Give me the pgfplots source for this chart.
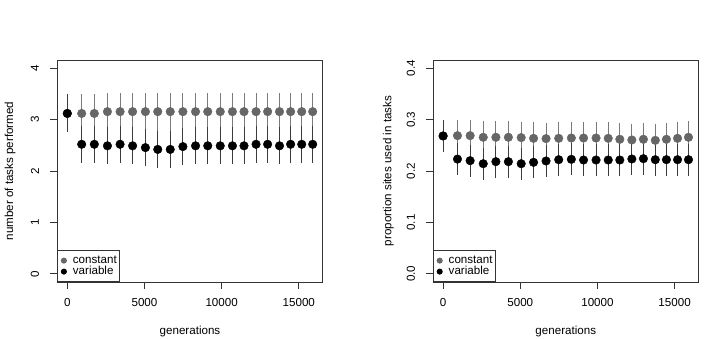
\documentclass[border=0pt]{standalone}
\usepackage{fontspec}
\setmainfont{Liberation Sans}
\usepackage{pgfplots}
\usepackage{pgfplotstable}
\pgfplotsset{compat=1.18}
\definecolor{cgray}{HTML}{666666}
\definecolor{cbar}{HTML}{7A7A7A}
\definecolor{vbar}{HTML}{3C3C3C}
\definecolor{axcol}{HTML}{333333}

\pgfplotstableread{
x     c      ce    v      ve
0     3.12   0.37  3.12   0.37
930   3.12   0.37  2.52   0.36
1750  3.12   0.37  2.52   0.36
2600  3.155  0.37  2.49   0.36
3420  3.155  0.37  2.52   0.36
4230  3.155  0.37  2.49   0.36
5060  3.155  0.37  2.455  0.36
5860  3.155  0.37  2.42   0.36
6670  3.155  0.37  2.42   0.36
7490  3.155  0.37  2.475  0.36
8310  3.155  0.37  2.49   0.36
9100  3.155  0.37  2.49   0.36
9910  3.155  0.37  2.49   0.36
10700 3.155  0.37  2.49   0.36
11450 3.155  0.37  2.49   0.36
12230 3.155  0.37  2.52   0.36
12980 3.155  0.37  2.52   0.36
13750 3.155  0.37  2.49   0.36
14470 3.155  0.37  2.52   0.36
15190 3.155  0.37  2.52   0.36
15900 3.155  0.37  2.52   0.36
}\dataL

\pgfplotstableread{
x     c       ce     v       ve
0     0.2682  0.032  0.2682  0.032
930   0.2688  0.031  0.2232  0.031
1750  0.2688  0.031  0.2201  0.031
2600  0.2656  0.031  0.2142  0.031
3420  0.2656  0.031  0.2182  0.031
4230  0.2656  0.031  0.2182  0.031
5060  0.2650  0.031  0.2142  0.031
5860  0.2636  0.031  0.2169  0.031
6670  0.2630  0.031  0.2195  0.031
7490  0.2636  0.031  0.2220  0.031
8310  0.2642  0.031  0.2227  0.031
9100  0.2642  0.031  0.2214  0.031
9910  0.2642  0.031  0.2214  0.031
10700 0.2636  0.031  0.2214  0.031
11450 0.2617  0.031  0.2214  0.031
12230 0.2604  0.031  0.2234  0.031
12980 0.2617  0.031  0.2240  0.031
13750 0.2597  0.031  0.2220  0.031
14470 0.2617  0.031  0.2220  0.031
15190 0.2636  0.031  0.2220  0.031
15900 0.2656  0.031  0.2220  0.031
}\dataR

\pgfplotsset{
  rpanel/.style={
    width=265pt, height=222pt, scale only axis,
    xmin=-636, xmax=16536,
    xtick={0,5000,10000,15000},
    scaled x ticks=false,
    xtick pos=bottom, ytick pos=left,
    tick align=outside, major tick length=7pt,
    axis line style={draw=axcol, line width=0.8pt},
    every tick/.style={draw=axcol, line width=0.8pt},
    font=\fontsize{11.6}{13.9}\selectfont,
    /pgf/number format/assume math mode=true,
    /pgf/number format/set thousands separator={},
    xticklabel style={anchor=center},
    xticklabel shift=14pt,
    yticklabel style={anchor=center, xshift=-15.5pt, rotate=90},
    xlabel={generations},
    xlabel style={at={(axis description cs:0.5,0)}, anchor=center, yshift=-49.7pt},
    legend cell align=left,
    legend style={at={(0,0)}, anchor=south west, draw=axcol, line width=0.8pt,
      fill=white, inner xsep=3pt, inner ysep=4.5pt, row sep=0pt, column sep=6pt,
      font=\fontsize{11.6}{13.9}\selectfont,
      nodes={inner sep=0pt, text height=8.2pt, text depth=2.8pt}},
  },
  cser/.style={only marks, mark=*, mark size=4.3pt, color=cgray,
    error bars/y dir=both, error bars/y explicit,
    error bars/error bar style={draw=cbar, line width=1pt},
    error bars/error mark=none,
    legend image code/.code={\fill[cgray] (0pt,0pt) circle (2.6pt);}},
  vser/.style={only marks, mark=*, mark size=4.3pt, color=black,
    error bars/y dir=both, error bars/y explicit,
    error bars/error bar style={draw=vbar, line width=1pt},
    error bars/error mark=none,
    legend image code/.code={\fill[black] (0pt,0pt) circle (2.6pt);}},
}

\begin{document}
\begin{tikzpicture}
\useasboundingbox (0pt,0pt) rectangle (705pt,338pt);
\begin{axis}[rpanel, at={(57.5pt,56pt)}, anchor=south west,
  ymin=-0.16, ymax=4.16, ytick={0,1,2,3,4},
  ylabel={number of tasks performed},
  ylabel style={at={(axis description cs:-0.179,0.5)}, anchor=center}]
\addplot[cser] table[x=x, y=c, y error=ce]{\dataL};
\addlegendentry{constant}
\addplot[vser] table[x=x, y=v, y error=ve]{\dataL};
\addlegendentry{variable}
\end{axis}
\begin{axis}[rpanel, at={(433.3pt,56pt)}, anchor=south west,
  ymin=-0.016, ymax=0.416, ytick={0,0.1,0.2,0.3,0.4},
  yticklabel style={/pgf/number format/.cd, fixed, fixed zerofill, precision=1},
  ylabel={proportion sites used in tasks},
  ylabel style={at={(axis description cs:-0.170,0.5)}, anchor=center}]
\addplot[cser] table[x=x, y=c, y error=ce]{\dataR};
\addlegendentry{constant}
\addplot[vser] table[x=x, y=v, y error=ve]{\dataR};
\addlegendentry{variable}
\end{axis}
\end{tikzpicture}
\end{document}
